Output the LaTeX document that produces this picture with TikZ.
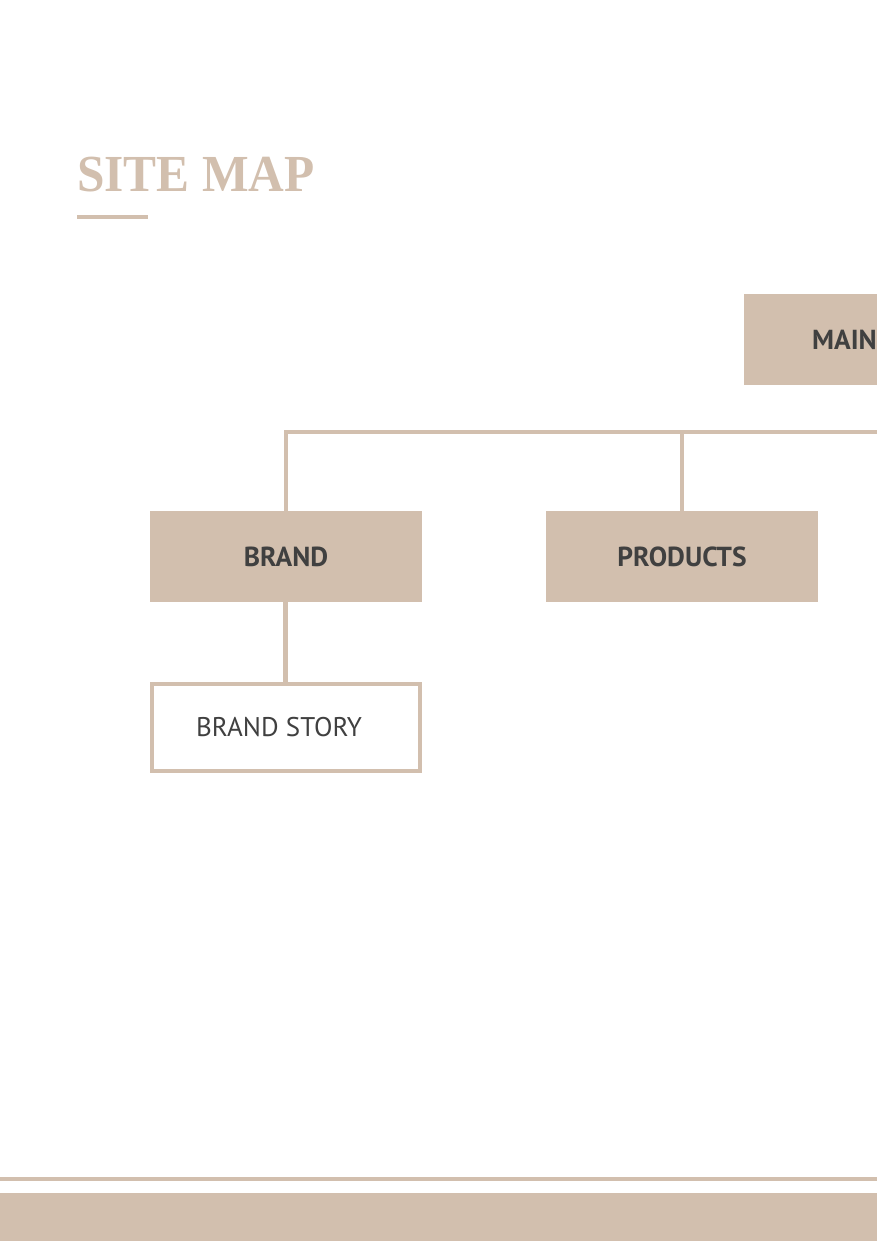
\documentclass[tikz,border=0pt]{standalone}
\usepackage{fontspec}
\setmainfont{Liberation Serif}
\newfontfamily\titlefont[FakeStretch=0.95]{Liberation Serif}
\newfontfamily\boxfont{PT Sans}
\definecolor{beige}{HTML}{D2BFAE}
\definecolor{ink}{HTML}{404040}
\tikzset{
  boldtext/.style={font=\boxfont\bfseries\fontsize{27.5}{31}\selectfont},
  filledbox/.style={fill=beige, minimum width=272pt, minimum height=91pt, inner sep=0pt, text=ink, boldtext},
  outlinebox/.style={draw=beige, line width=4pt, fill=white, minimum width=268pt, minimum height=87pt, inner sep=0pt, text=ink, font=\boxfont\fontsize{27}{31}\selectfont},
  link/.style={draw=beige, line width=4pt},
}
\begin{document}
\begin{tikzpicture}[x=1pt,y=-1pt]
\useasboundingbox (0,0) rectangle (877,1241);
\clip (0,0) rectangle (877,1241);
% title
\node[anchor=base west, inner sep=0pt, text=beige, font=\titlefont\bfseries\fontsize{52}{58}\selectfont] (title) at (77,192) {SITE MAP};
\fill[beige] (77,215.5) rectangle (148,219.5);
% boxes
\node[filledbox] (main) at (880,339.5) {};
\node[anchor=west, inner sep=0pt, text=ink, boldtext] (maintext) at (812,340) {MAIN};
\node[filledbox] (brand) at (286,556.5) {BRAND};
\node[filledbox] (products) at (682,556.5) {PRODUCTS};
\node[outlinebox] (story) at (286,727.5) {\hspace*{-14pt}BRAND STORY};
% connectors
\coordinate (rightend) at (880,432);
\draw[link] (brand.north) |- (rightend);
\draw[link] (products.north) -- (products.north |- rightend);
\draw[link, line width=5pt] (brand.south -| 285,0) -- (story.north -| 285,0);
% footer
\fill[beige] (0,1177) rectangle (877,1181);
\fill[beige] (0,1193) rectangle (877,1241);
\end{tikzpicture}
\end{document}
